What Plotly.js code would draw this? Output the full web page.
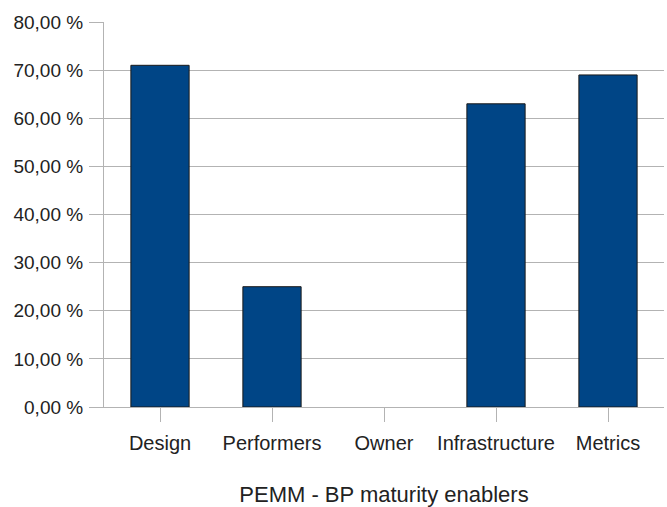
<!DOCTYPE html>
<html>
<head>
<meta charset="utf-8">
<script src="https://cdn.plot.ly/plotly-3.0.1.min.js"></script>
<style>html,body{margin:0;padding:0;background:#fff;}#chart{width:667px;height:507px;}</style>
</head>
<body>
<div id="chart"></div>
<script>
var categories = ["Design", "Performers", "Owner", "Infrastructure", "Metrics"];
var values = [71, 25, 0, 63, 69];
var yTickVals = [0, 10, 20, 30, 40, 50, 60, 70, 80];
var yTickText = ["0,00 %", "10,00 %", "20,00 %", "30,00 %", "40,00 %", "50,00 %", "60,00 %", "70,00 %", "80,00 %"];
var xTitle = "PEMM - BP maturity enablers";

var font = "Liberation Sans, Arial, sans-serif";
var trace = {
  type: "bar",
  x: categories,
  y: values,
  marker: {
    color: "#004586",
    line: {color: "#1a1a1a", width: values.map(function (v) { return v > 0 ? 1 : 0; })}
  },
  hoverinfo: "none"
};
var layout = {
  width: 667, height: 507,
  margin: {l: 104, r: 3, t: 22, b: 100},
  paper_bgcolor: "#fff", plot_bgcolor: "#fff",
  showlegend: false,
  bargap: 0.48,
  font: {family: font, color: "#222"},
  xaxis: {
    type: "category",
    showline: true, linecolor: "#b3b3b3", linewidth: 1,
    ticks: "outside", ticklen: 14, tickcolor: "#b3b3b3",
    ticklabelstandoff: 4,
    tickfont: {size: 20, family: font, color: "#222"},
    title: {text: xTitle, font: {size: 22, family: font, color: "#222"}, standoff: 36},
    showgrid: false
  },
  yaxis: {
    range: [0, 80],
    tickvals: yTickVals, ticktext: yTickText,
    showline: true, linecolor: "#b3b3b3", linewidth: 1,
    ticks: "outside", ticklen: 14, tickcolor: "#b3b3b3",
    ticklabelstandoff: 2,
    tickfont: {size: 19, family: font, color: "#222"},
    showgrid: true, gridcolor: "#b3b3b3", gridwidth: 1,
    zeroline: false
  }
};
Plotly.newPlot("chart", [trace], layout, {staticPlot: true, displayModeBar: false});
</script>
</body>
</html>
